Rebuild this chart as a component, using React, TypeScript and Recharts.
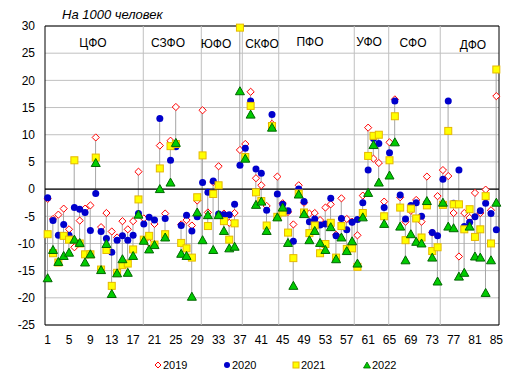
import React from 'react';
import { ComposedChart, XAxis, YAxis, CartesianGrid, Scatter, Bar, ReferenceLine, ReferenceArea } from 'recharts';

const v2019 = [
  -1.8, -5.5, -4.7, -3.6, -7.4, -10.7, -5.8, -3.6, -3.0, 9.5,
  -7.0, -4.4, -7.8, -8.9, -5.9, -7.4, -5.9, 3.2, -5.4, -9.9,
  -6.4, 8.0, -4.5, 8.9, 15.1, -6.5, -5.7, -6.7, -2.1, 14.5,
  -4.3, 1.3, 4.2, -4.5, -6.2, -4.4, 7.2, 8.3, 17.9, 2.0,
  0.7, -3.1, 12.0, 2.3, -2.6, -4.2, -6.5, 0.7, -2.5, -4.5,
  -4.4, -5.7, -3.4, -2.8, -8.4, -1.7, -5.5, -6.0, -8.5, -1.2,
  11.3, 5.6, 4.8, -2.3, 8.6, 16.5, -1.5, -6.0, -4.0, -2.0,
  -6.0, 2.3, -8.0, -1.3, 3.5, 2.4, -4.4, -12.4, -4.4, -5.3,
  -0.7, -4.4, -0.1, -3.9, 17.1,
];
const v2020 = [
  -1.6, -5.8, -8.5, -6.5, -8.5, -3.4, -3.7, -4.3, -7.6, -0.8,
  -7.8, -9.1, -11.6, -9.4, -8.6, -9.4, -8.5, -4.5, -6.4, -5.2,
  -5.7, 13.0, -5.4, 5.3, 7.8, -6.7, -4.8, -7.7, -5.1, 1.2,
  -0.6, 1.5, -4.6, -4.7, -4.7, -2.8, 4.4, 7.5, 16.2, 3.7,
  2.9, -3.9, 13.7, -0.9, -2.8, -4.0, -9.6, 0.0, -2.3, -6.0,
  -5.5, -6.6, -6.4, -1.7, -8.6, -5.4, -7.5, -6.1, -5.6, -2.5,
  3.5, 9.3, 8.4, -3.4, 6.7, 16.2, -1.1, -5.5, -3.0, -2.5,
  -5.0, -2.5, -8.0, -8.6, 1.8, 16.2, -2.6, 3.5, -6.9, -6.1,
  -5.1, -4.0, -2.6, -4.5, -7.5,
];
const v2021 = [
  -8.3, -11.8, -13.5, -8.6, -9.3, 5.3, -10.0, -12.0, -12.0, 5.8,
  -14.8, -11.2, -17.8, -15.4, -14.0, -13.7, -11.1, -1.9, -9.3, -8.6,
  -10.2, 3.8, -8.3, 7.9, 8.3, -9.9, -10.9, -12.6, -1.5, 6.2,
  -6.8, -0.9, 0.7, -5.9, -9.3, -6.3, 29.7, 5.9, 15.3, -0.6,
  -2.2, -6.7, 11.6, -5.1, -4.3, -8.0, -12.7, -0.8, -4.3, -8.1,
  -6.7, -11.8, -10.1, -6.2, -12.6, -6.8, -11.0, -10.9, -14.3, -4.4,
  6.1, 9.8, 10.0, -5.0, 5.3, 13.4, -3.4, -9.4, -3.6, -5.4,
  -8.9, -3.0, -11.4, -10.7, -2.9, 10.7, -2.8, -2.8, -7.4, -3.7,
  -8.8, -7.4, -1.3, -10.0, 22.0,
];
const v2022 = [
  -16.4, -11.2, -13.4, -12.3, -11.7, -9.3, -9.9, -13.5, -12.0, 4.8,
  -14.9, -10.1, -19.3, -15.5, -12.9, -15.4, -12.3, -4.7, -9.5, -11.1,
  -10.3, 0.0, -8.9, 1.2, 8.5, -11.9, -12.3, -19.8, -4.3, -9.4,
  -4.8, -11.2, -4.8, -7.7, -10.9, -10.6, 18.0, 5.6, 13.7, -2.9,
  -2.3, -7.7, 11.3, -5.2, -3.4, -9.9, -17.8, -1.0, -4.6, -9.4,
  -7.7, -9.9, -11.2, -7.0, -12.9, -8.9, -11.4, -9.6, -13.7, -5.2,
  -0.7, 8.1, 1.2, -6.4, 2.5, 8.6, -6.9, -13.1, -8.3, -9.7,
  -10.0, -2.2, -12.6, -17.0, -2.5, -6.9, -7.2, -16.1, -15.4, -6.9,
  -12.4, -12.6, -19.1, -13.1, -2.5,
];

const xTicks = [1, 5, 9, 13, 17, 21, 25, 29, 33, 37, 41, 45, 49, 53, 57, 61, 65, 69, 73, 77, 81, 85];
const yTicks = [-25, -20, -15, -10, -5, 0, 5, 10, 15, 20, 25, 30];
const districtBounds = [18.9, 29.76, 37.44, 44.26, 58.4, 64.85, 74.5];
const districtNames = ['ЦФО', 'СЗФО', 'ЮФО', 'СКФО', 'ПФО', 'УФО', 'СФО', 'ДФО'];
const districtLabelX = [93, 168, 216, 262, 310, 369, 413, 473];
const districtLabelY = [43, 43, 44, 44, 42, 42, 43, 45];
const seriesNames = ['2019', '2020', '2021', '2022'];

const data = v2019.map((_, i) => {
  const vals = [v2019[i], v2020[i], v2021[i], v2022[i]];
  return {
    x: i + 1,
    y2019: v2019[i],
    y2020: v2020[i],
    y2021: v2021[i],
    y2022: v2022[i],
    range: [Math.min(...vals), Math.max(...vals)],
  };
});

const FONT = '"Liberation Sans", Arial, sans-serif';

const Diamond = (props: any) => {
  const { cx, cy } = props;
  const r = 3.6;
  return (
    <polygon
      points={`${cx},${cy - r} ${cx + r},${cy} ${cx},${cy + r} ${cx - r},${cy}`}
      fill="#ffffff"
      stroke="#ff0000"
      strokeWidth={1}
    />
  );
};
const Dot = (props: any) => {
  const { cx, cy } = props;
  return <circle cx={cx} cy={cy} r={3.5} fill="#0000cc" />;
};
const Square = (props: any) => {
  const { cx, cy } = props;
  return <rect x={cx - 3.5} y={cy - 3.5} width={7} height={7} fill="#ffff00" stroke="#e6b800" strokeWidth={1} />;
};
const Tri = (props: any) => {
  const { cx, cy } = props;
  return (
    <polygon
      points={`${cx},${cy - 4.5} ${cx + 4.5},${cy + 3.5} ${cx - 4.5},${cy + 3.5}`}
      fill="#00cc00"
      stroke="#006600"
      strokeWidth={1}
    />
  );
};

const legendIcons = [
  <svg width="8" height="8" key="a"><polygon points="4,1 7,4 4,7 1,4" fill="#fff" stroke="#ff0000" strokeWidth={1} /></svg>,
  <svg width="8" height="8" key="b"><circle cx="4" cy="4" r="3" fill="#0000cc" /></svg>,
  <svg width="8" height="8" key="c"><rect x="1" y="1" width="6" height="6" fill="#ffff00" stroke="#e6b800" /></svg>,
  <svg width="8" height="8" key="d"><polygon points="4,1 7.5,7 0.5,7" fill="#00cc00" stroke="#006600" strokeWidth={0.8} /></svg>,
];
const legendX = [154, 223, 292, 363];

export default function App() {
  return (
    <div style={{ position: 'fixed', left: 0, top: 0, width: 513, height: 390, background: '#fff', fontFamily: FONT }}>
      <ComposedChart width={513} height={390} data={data} margin={{ top: 26, right: 14, bottom: 35, left: 0 }}>
        <CartesianGrid vertical={false} stroke="#c0c0c0" />
        <XAxis
          type="number"
          dataKey="x"
          domain={[0.5, 85.5]}
          ticks={xTicks}
          interval={0}
          tickLine={false}
          axisLine={false}
          tickSize={6}
          tickMargin={4}
          height={30}
          tick={{ fontSize: 12, fill: '#000', fontFamily: FONT }}
        />
        <YAxis
          type="number"
          domain={[-25, 30]}
          ticks={yTicks}
          interval={0}
          tickLine={false}
          axisLine={false}
          tickSize={6}
          tickMargin={4}
          width={45}
          tick={{ fontSize: 12, fill: '#000', fontFamily: FONT }}
        />
        {districtBounds.map((b) => (
          <ReferenceLine key={b} x={b} stroke="#c0c0c0" strokeWidth={1} />
        ))}
        <ReferenceLine y={0} stroke="#000" strokeWidth={1.2} />
        <ReferenceArea x1={0.5} x2={85.5} y1={-25} y2={30} fill="none" fillOpacity={0} stroke="#000" strokeWidth={1} />
        <Bar dataKey="range" barSize={1} fill="#a6a6a6" isAnimationActive={false} />
        <Scatter dataKey="y2019" shape={Diamond} isAnimationActive={false} />
        <Scatter dataKey="y2020" shape={Dot} isAnimationActive={false} />
        <Scatter dataKey="y2021" shape={Square} isAnimationActive={false} />
        <Scatter dataKey="y2022" shape={Tri} isAnimationActive={false} />
      </ComposedChart>
      <div style={{ position: 'absolute', left: 62, top: 7, fontSize: 13, fontStyle: 'italic', color: '#000', whiteSpace: 'nowrap' }}>
        На 1000 человек
      </div>
      {districtNames.map((n, i) => (
        <div
          key={n}
          style={{
            position: 'absolute',
            left: districtLabelX[i],
            top: districtLabelY[i],
            transform: 'translate(-50%, -50%)',
            fontSize: 12,
            color: '#000',
            whiteSpace: 'nowrap',
          }}
        >
          {n}
        </div>
      ))}
      {seriesNames.map((s, i) => (
        <div
          key={s}
          style={{ position: 'absolute', left: legendX[i], top: 359, display: 'flex', alignItems: 'center', fontSize: 11, color: '#000' }}
        >
          {legendIcons[i]}
          <span style={{ marginLeft: 1 }}>{s}</span>
        </div>
      ))}
    </div>
  );
}
